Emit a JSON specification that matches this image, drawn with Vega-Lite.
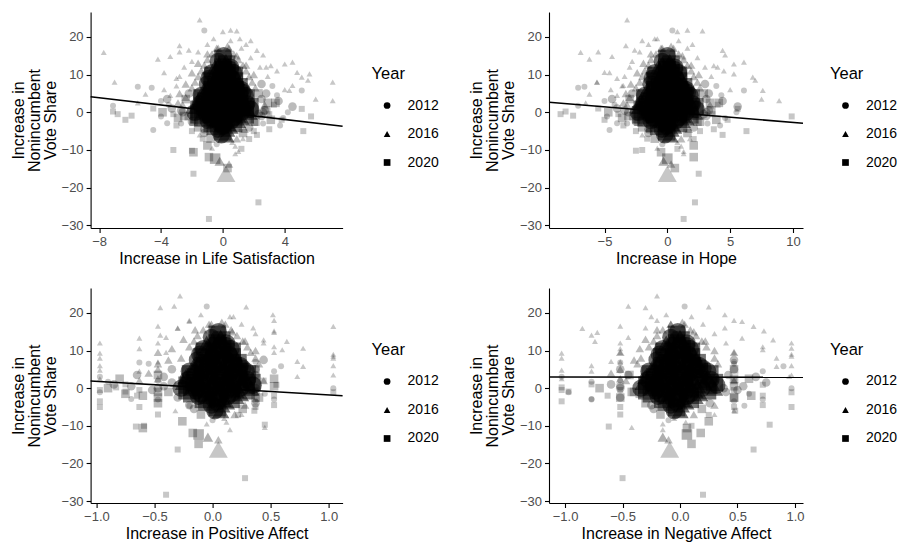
{
"$schema": "https://vega.github.io/schema/vega-lite/v6.json",
"background": "white",
"padding": {"left": 9.6, "top": 12, "right": 100, "bottom": 0},
"config": {
  "font": "Liberation Sans",
  "view": {"stroke": null},
  "axis": {"grid": false, "domainColor": "black", "domainWidth": 1.1, "tickColor": "black", "tickWidth": 1.1, "tickSize": 4.5, "labelColor": "#4d4d4d", "labelFont": "Liberation Sans", "labelFontSize": 13, "labelPadding": 3, "labelFlush": false, "labelOverlap": false, "titleFont": "Liberation Sans", "titleFontSize": 16, "titleFontWeight": "normal", "titleColor": "black"},
  "axisX": {"titlePadding": 2},
  "axisY": {"titlePadding": 3, "titleLineHeight": 16},
  "legend": {"titleFont": "Liberation Sans", "titleFontSize": 16.5, "titleFontWeight": "normal", "titleColor": "black", "labelFont": "Liberation Sans", "labelFontSize": 14, "labelColor": "black", "symbolSize": 45, "symbolFillColor": "black", "symbolOpacity": 1, "symbolStrokeWidth": 0, "rowPadding": 14.5, "titlePadding": 16, "labelOffset": 13.5, "symbolOffset": 8.5, "padding": 0}
},
"columns": 2,
"spacing": {"row": 21, "column": 28.4},
"resolve": {"scale": {"shape": "independent"}, "legend": {"shape": "independent"}},
"datasets": {
"fits": [
{"panel":"ls","x":-8.55,"y":4.1},{"panel":"ls","x":7.74,"y":-3.7},
{"panel":"hope","x":-9.42,"y":2.65},{"panel":"hope","x":10.8,"y":-2.9},
{"panel":"pa","x":-1.05,"y":1.9},{"panel":"pa","x":1.12,"y":-2.0},
{"panel":"na","x":-1.14,"y":2.95},{"panel":"na","x":1.07,"y":2.9}
],
"counties": [
{"ls":-1.5,"hope":-3.2,"pa":-0.28,"na":-0.2,"v":24.5,"yr":"2016","pop":1},
{"ls":-1.2,"hope":0.4,"pa":-0.05,"na":0.04,"v":21.7,"yr":"2012","pop":1},
{"ls":0.0,"hope":0.8,"pa":-0.45,"na":-0.3,"v":21.4,"yr":"2016","pop":1},
{"ls":0.5,"hope":1.6,"pa":-0.33,"na":-0.45,"v":21.8,"yr":"2016","pop":1},
{"ls":0.9,"hope":2.8,"pa":0.29,"na":0.25,"v":21.6,"yr":"2016","pop":1},
{"ls":1.1,"hope":-1.0,"pa":0.52,"na":0.39,"v":19.5,"yr":"2016","pop":1},
{"ls":1.8,"hope":-2.0,"pa":0.18,"na":-0.25,"v":19.0,"yr":"2016","pop":1},
{"ls":-7.7,"hope":-6.9,"pa":-0.3,"na":-0.85,"v":15.9,"yr":"2016","pop":1},
{"ls":-4.2,"hope":-6.2,"pa":-0.45,"na":-0.77,"v":14.1,"yr":"2016","pop":1},
{"ls":-3.4,"hope":-4.4,"pa":0.53,"na":-0.72,"v":14.8,"yr":"2016","pop":1},
{"ls":-2.8,"hope":-3.3,"pa":-0.2,"na":0.54,"v":17.7,"yr":"2016","pop":1},
{"ls":-2.8,"hope":-5.5,"pa":0.35,"na":0.39,"v":16.0,"yr":"2016","pop":1},
{"ls":2.2,"hope":4.4,"pa":1.04,"na":0.64,"v":16.4,"yr":"2016","pop":1},
{"ls":2.6,"hope":4.6,"pa":0.53,"na":0.73,"v":15.2,"yr":"2016","pop":1},
{"ls":3.1,"hope":3.7,"pa":0.64,"na":-0.74,"v":12.4,"yr":"2016","pop":1},
{"ls":4.0,"hope":5.3,"pa":0.44,"na":0.81,"v":12.8,"yr":"2016","pop":1},
{"ls":4.5,"hope":6.1,"pa":-0.63,"na":0.54,"v":13.3,"yr":"2016","pop":1},
{"ls":4.8,"hope":-5.0,"pa":0.78,"na":0.97,"v":10.6,"yr":"2016","pop":1},
{"ls":5.1,"hope":6.8,"pa":-0.97,"na":-1.03,"v":9.3,"yr":"2016","pop":1},
{"ls":5.6,"hope":5.3,"pa":0.6,"na":0.72,"v":10.2,"yr":"2016","pop":1},
{"ls":4.3,"hope":7.6,"pa":0.78,"na":0.84,"v":5.8,"yr":"2016","pop":1},
{"ls":5.1,"hope":6.1,"pa":0.59,"na":0.9,"v":5.8,"yr":"2012","pop":1},
{"ls":4.5,"hope":-3.5,"pa":0.73,"na":-0.6,"v":7.1,"yr":"2016","pop":1},
{"ls":7.1,"hope":-5.6,"pa":1.04,"na":-1.03,"v":8.0,"yr":"2016","pop":1},
{"ls":7.1,"hope":8.9,"pa":0.73,"na":0.95,"v":3.1,"yr":"2016","pop":1},
{"ls":-7.0,"hope":-5.6,"pa":-0.97,"na":0.84,"v":8.0,"yr":"2016","pop":1},
{"ls":-7.1,"hope":-7.1,"pa":-0.9,"na":-0.77,"v":1.7,"yr":"2012","pop":1},
{"ls":-7.1,"hope":-8.1,"pa":-0.83,"na":-1.03,"v":0.2,"yr":"2020","pop":1},
{"ls":-5.9,"hope":-7.5,"pa":-0.75,"na":-0.97,"v":-0.9,"yr":"2020","pop":1},
{"ls":-5.5,"hope":-6.6,"pa":-0.63,"na":-0.52,"v":6.8,"yr":"2012","pop":1},
{"ls":-4.6,"hope":-7.1,"pa":-0.55,"na":0.47,"v":6.5,"yr":"2012","pop":1},
{"ls":-4.5,"hope":-4.6,"pa":-0.2,"na":0.56,"v":-4.7,"yr":"2012","pop":1},
{"ls":5.7,"hope":9.9,"pa":1.04,"na":0.97,"v":-1.1,"yr":"2020","pop":1},
{"ls":5.2,"hope":6.3,"pa":-0.97,"na":0.97,"v":-5.0,"yr":"2020","pop":1},
{"ls":5.1,"hope":5.6,"pa":0.55,"na":0.72,"v":0.9,"yr":"2020","pop":1},
{"ls":3.7,"hope":4.2,"pa":0.37,"na":0.47,"v":-3.5,"yr":"2012","pop":1},
{"ls":3.9,"hope":4.6,"pa":0.45,"na":0.6,"v":-1.5,"yr":"2012","pop":1},
{"ls":2.2,"hope":4.4,"pa":0.36,"na":0.48,"v":-6.0,"yr":"2020","pop":1},
{"ls":1.7,"hope":2.1,"pa":0.22,"na":0.25,"v":-7.1,"yr":"2020","pop":1},
{"ls":1.0,"hope":1.3,"pa":0.45,"na":-0.42,"v":-10.4,"yr":"2016","pop":1},
{"ls":0.4,"hope":0.3,"pa":0.05,"na":-0.1,"v":-13.7,"yr":"2016","pop":2},
{"ls":0.2,"hope":0.0,"pa":0.05,"na":-0.09,"v":-16.3,"yr":"2016","pop":12},
{"ls":-0.2,"hope":-0.3,"pa":-0.04,"na":-0.15,"v":-13.0,"yr":"2016","pop":3},
{"ls":-0.9,"hope":2.1,"pa":-0.17,"na":0.18,"v":-11.9,"yr":"2020","pop":2},
{"ls":-1.0,"hope":2.1,"pa":-0.26,"na":0.25,"v":-8.8,"yr":"2020","pop":2},
{"ls":-1.9,"hope":-0.5,"pa":-0.6,"na":0.06,"v":-10.6,"yr":"2020","pop":2},
{"ls":-3.2,"hope":-2.0,"pa":-0.59,"na":0.1,"v":-10.0,"yr":"2020","pop":1},
{"ls":-1.9,"hope":2.5,"pa":-0.3,"na":0.64,"v":-16.3,"yr":"2020","pop":1},
{"ls":-0.9,"hope":1.3,"pa":-0.4,"na":0.2,"v":-28.3,"yr":"2020","pop":1},
{"ls":2.3,"hope":2.2,"pa":0.28,"na":-0.5,"v":-23.9,"yr":"2020","pop":1},
{"ls":-4.0,"hope":-4.8,"pa":-0.97,"na":-0.97,"v":-1.1,"yr":"2012","pop":1},
{"ls":-3.6,"hope":-4.0,"pa":-0.7,"na":-0.77,"v":-2.9,"yr":"2012","pop":1},
{"ls":-0.5,"hope":0.0,"pa":-0.12,"na":0.06,"v":-12.3,"yr":"2020","pop":3},
{"ls":0.3,"hope":0.6,"pa":-0.12,"na":0.1,"v":-14.8,"yr":"2020","pop":2},
{"ls":-6.8,"hope":-8.5,"pa":-0.97,"na":-1.03,"v":-0.5,"yr":"2020","pop":1},
{"ls":-6.3,"hope":-5.0,"pa":-0.65,"na":-0.63,"v":-2.0,"yr":"2020","pop":1},
{"ls":0.8,"hope":1.3,"pa":0.15,"na":-0.15,"v":-11.0,"yr":"2016","pop":1},
{"ls":1.2,"hope":0.8,"pa":0.45,"na":0.78,"v":-9.7,"yr":"2020","pop":1},
{"ls":-2.0,"hope":-2.5,"pa":-0.66,"na":-0.62,"v":-10.2,"yr":"2020","pop":1},
{"ls":6.0,"hope":7.5,"pa":1.04,"na":0.97,"v":3.5,"yr":"2016","pop":1},
{"ls":-5.0,"hope":-6.2,"pa":-0.97,"na":-1.03,"v":4.8,"yr":"2016","pop":1},
{"ls":-3.0,"hope":-4.0,"pa":1.04,"na":0.97,"v":9.0,"yr":"2016","pop":1},
{"ls":2.8,"hope":4.0,"pa":-0.97,"na":0.97,"v":12.0,"yr":"2016","pop":1},
{"ls":-2.5,"hope":-3.0,"pa":-0.47,"na":-0.52,"v":12.0,"yr":"2016","pop":1},
{"ls":-2.0,"hope":-2.8,"pa":-0.4,"na":-0.45,"v":13.5,"yr":"2016","pop":1},
{"ls":-1.6,"hope":-2.2,"pa":-0.3,"na":-0.3,"v":16.0,"yr":"2016","pop":1},
{"ls":-1.0,"hope":-1.5,"pa":-0.2,"na":-0.2,"v":18.0,"yr":"2016","pop":1},
{"ls":-0.6,"hope":-0.8,"pa":-0.1,"na":-0.12,"v":19.5,"yr":"2016","pop":1},
{"ls":0.5,"hope":0.9,"pa":0.15,"na":0.1,"v":19.0,"yr":"2016","pop":1},
{"ls":1.2,"hope":1.6,"pa":0.25,"na":0.2,"v":17.0,"yr":"2016","pop":1},
{"ls":1.8,"hope":2.4,"pa":0.37,"na":0.3,"v":14.5,"yr":"2016","pop":1},
{"ls":2.4,"hope":3.0,"pa":0.44,"na":0.4,"v":12.0,"yr":"2016","pop":1},
{"ls":2.9,"hope":3.5,"pa":0.53,"na":0.47,"v":9.5,"yr":"2016","pop":1},
{"ls":3.2,"hope":3.9,"pa":0.37,"na":0.47,"v":7.0,"yr":"2012","pop":1},
{"ls":3.5,"hope":4.3,"pa":0.53,"na":0.72,"v":4.5,"yr":"2012","pop":1},
{"ls":3.3,"hope":4.0,"pa":0.44,"na":0.47,"v":2.0,"yr":"2020","pop":1},
{"ls":3.0,"hope":3.6,"pa":0.37,"na":0.47,"v":-0.5,"yr":"2020","pop":1},
{"ls":2.6,"hope":3.2,"pa":0.53,"na":0.72,"v":-3.0,"yr":"2012","pop":1},
{"ls":2.0,"hope":2.6,"pa":0.37,"na":0.47,"v":-5.0,"yr":"2020","pop":1},
{"ls":1.3,"hope":1.8,"pa":0.25,"na":0.3,"v":-7.0,"yr":"2016","pop":1},
{"ls":0.8,"hope":1.1,"pa":0.12,"na":0.05,"v":-9.0,"yr":"2016","pop":1},
{"ls":-0.7,"hope":-0.8,"pa":-0.05,"na":-0.15,"v":-9.5,"yr":"2016","pop":1},
{"ls":-1.3,"hope":-1.6,"pa":-0.47,"na":-0.52,"v":-7.0,"yr":"2020","pop":1},
{"ls":-2.0,"hope":-2.5,"pa":-0.63,"na":-0.52,"v":-5.0,"yr":"2020","pop":1},
{"ls":-2.7,"hope":-3.2,"pa":-0.47,"na":-0.77,"v":-3.0,"yr":"2012","pop":1},
{"ls":-3.2,"hope":-3.9,"pa":-0.63,"na":-0.52,"v":-0.5,"yr":"2020","pop":1},
{"ls":-3.5,"hope":-4.2,"pa":-0.47,"na":-0.52,"v":2.0,"yr":"2012","pop":1},
{"ls":-3.4,"hope":-4.0,"pa":-0.63,"na":-0.77,"v":4.5,"yr":"2016","pop":1},
{"ls":-3.0,"hope":-3.6,"pa":-0.47,"na":-0.52,"v":7.0,"yr":"2016","pop":1},
{"ls":-2.8,"hope":-3.4,"pa":-0.4,"na":-0.52,"v":9.5,"yr":"2016","pop":1},
{"ls":-2.0,"hope":-2.4,"pa":-0.35,"na":-0.35,"v":10.5,"yr":"2016","pop":2},
{"ls":-1.6,"hope":-1.9,"pa":-0.25,"na":-0.3,"v":13.0,"yr":"2016","pop":2},
{"ls":-1.0,"hope":-1.3,"pa":-0.15,"na":-0.2,"v":15.5,"yr":"2016","pop":2},
{"ls":-0.4,"hope":-0.5,"pa":-0.03,"na":-0.08,"v":17.0,"yr":"2016","pop":2},
{"ls":0.3,"hope":0.3,"pa":0.08,"na":0.02,"v":17.5,"yr":"2016","pop":2},
{"ls":0.9,"hope":1.2,"pa":0.17,"na":0.12,"v":15.0,"yr":"2016","pop":2},
{"ls":1.5,"hope":1.9,"pa":0.28,"na":0.22,"v":12.5,"yr":"2016","pop":2},
{"ls":2.0,"hope":2.5,"pa":0.37,"na":0.3,"v":10.0,"yr":"2016","pop":2},
{"ls":2.5,"hope":3.0,"pa":0.44,"na":0.47,"v":7.5,"yr":"2012","pop":2},
{"ls":2.8,"hope":3.3,"pa":0.37,"na":0.47,"v":5.0,"yr":"2012","pop":2},
{"ls":2.9,"hope":3.4,"pa":0.53,"na":0.47,"v":2.5,"yr":"2020","pop":2},
{"ls":2.6,"hope":3.1,"pa":0.37,"na":0.38,"v":0.0,"yr":"2012","pop":2},
{"ls":2.0,"hope":2.4,"pa":0.37,"na":0.47,"v":-2.5,"yr":"2020","pop":2},
{"ls":1.4,"hope":1.7,"pa":0.28,"na":0.3,"v":-4.5,"yr":"2016","pop":2},
{"ls":-1.2,"hope":-1.5,"pa":-0.2,"na":-0.25,"v":-4.5,"yr":"2012","pop":2},
{"ls":-1.9,"hope":-2.3,"pa":-0.47,"na":-0.52,"v":-2.5,"yr":"2020","pop":2},
{"ls":-2.6,"hope":-3.1,"pa":-0.47,"na":-0.52,"v":0.0,"yr":"2012","pop":2},
{"ls":-2.9,"hope":-3.5,"pa":-0.47,"na":-0.52,"v":2.5,"yr":"2016","pop":2},
{"ls":-2.8,"hope":-3.3,"pa":-0.47,"na":-0.52,"v":5.0,"yr":"2016","pop":2},
{"ls":-2.4,"hope":-2.9,"pa":-0.38,"na":-0.4,"v":7.5,"yr":"2016","pop":2},
{"ls":-4.0,"hope":-5.0,"pa":-0.97,"na":-1.03,"v":3.0,"yr":"2012","pop":1},
{"ls":-3.8,"hope":-4.5,"pa":-0.97,"na":-0.77,"v":6.0,"yr":"2016","pop":1},
{"ls":4.0,"hope":5.0,"pa":1.04,"na":0.97,"v":6.0,"yr":"2016","pop":1},
{"ls":4.2,"hope":5.5,"pa":1.04,"na":0.97,"v":0.0,"yr":"2012","pop":1},
{"ls":3.8,"hope":4.8,"pa":0.53,"na":0.72,"v":-2.0,"yr":"2020","pop":1},
{"ls":-4.5,"hope":-5.5,"pa":-0.75,"na":-0.77,"v":1.0,"yr":"2020","pop":1},
{"ls":-5.5,"hope":-6.5,"pa":-0.97,"na":-1.03,"v":2.5,"yr":"2016","pop":1},
{"ls":5.5,"hope":7.0,"pa":1.04,"na":0.97,"v":8.5,"yr":"2016","pop":1},
{"ls":-3.8,"hope":-4.6,"pa":-0.63,"na":-0.52,"v":10.5,"yr":"2016","pop":1},
{"ls":3.5,"hope":4.5,"pa":0.53,"na":0.72,"v":11.0,"yr":"2016","pop":1},
{"ls":1.5,"hope":2.0,"pa":0.53,"na":0.47,"v":18.0,"yr":"2016","pop":1},
{"ls":-2.2,"hope":-2.6,"pa":-0.47,"na":-0.52,"v":16.5,"yr":"2016","pop":1},
{"ls":-3.0,"hope":-3.5,"pa":-0.97,"na":-1.03,"v":-3.5,"yr":"2020","pop":1},
{"ls":3.0,"hope":3.7,"pa":0.53,"na":0.72,"v":-4.5,"yr":"2020","pop":1},
{"ls":-1.5,"hope":-2.0,"pa":-0.32,"na":0.47,"v":-6.0,"yr":"2016","pop":1},
{"ls":0.6,"hope":0.8,"pa":0.1,"na":-0.05,"v":-8.0,"yr":"2016","pop":1},
{"ls":-0.4,"hope":-0.4,"pa":0.0,"na":-0.1,"v":-8.5,"yr":"2012","pop":1},
{"ls":-3.3,"hope":-4.0,"pa":-0.85,"na":-0.6,"v":1.0,"yr":"2012","pop":2},
{"ls":3.4,"hope":4.1,"pa":-0.8,"na":0.6,"v":2.5,"yr":"2020","pop":2},
{"ls":-2.9,"hope":-3.6,"pa":-0.75,"na":-0.35,"v":-1.5,"yr":"2020","pop":2},
{"ls":2.7,"hope":3.3,"pa":-0.7,"na":0.55,"v":0.5,"yr":"2012","pop":2},
{"ls":-3.6,"hope":-4.4,"pa":-0.65,"na":-0.45,"v":3.5,"yr":"2012","pop":2},
{"ls":3.1,"hope":3.9,"pa":-0.6,"na":0.62,"v":-2.0,"yr":"2020","pop":2},
{"ls":-2.4,"hope":-3.0,"pa":-0.55,"na":-0.6,"v":4.0,"yr":"2016","pop":2},
{"ls":2.3,"hope":2.9,"pa":-0.52,"na":0.5,"v":-0.5,"yr":"2012","pop":2},
{"ls":-3.9,"hope":-4.7,"pa":-0.9,"na":-0.7,"v":0.0,"yr":"2020","pop":2},
{"ls":3.6,"hope":4.4,"pa":-0.42,"na":0.66,"v":3.0,"yr":"2012","pop":2},
{"ls":-2.2,"hope":-2.7,"pa":-0.38,"na":-0.42,"v":-1.0,"yr":"2020","pop":2},
{"ls":4.5,"hope":5.6,"pa":-0.35,"na":0.75,"v":1.5,"yr":"2012","pop":2},
{"ls":-0.8,"hope":-1.0,"pa":-0.1,"na":-0.17,"v":-7,"yr":"2020","pop":2},
{"ls":-1.2,"hope":-1.5,"pa":-0.16,"na":-0.23,"v":-5.5,"yr":"2012","pop":2},
{"ls":-1.6,"hope":-2.0,"pa":-0.47,"na":-0.3,"v":-4,"yr":"2020","pop":2},
{"ls":-2.0,"hope":-2.5,"pa":-0.3,"na":-0.52,"v":-2.5,"yr":"2012","pop":2},
{"ls":-2.5,"hope":-3.1,"pa":-0.47,"na":-0.4,"v":-1,"yr":"2020","pop":2},
{"ls":-2.7,"hope":-3.4,"pa":-0.42,"na":-0.52,"v":0.5,"yr":"2012","pop":2},
{"ls":-2.6,"hope":-3.2,"pa":-0.63,"na":-0.47,"v":2,"yr":"2016","pop":2},
{"ls":-2.4,"hope":-3.0,"pa":-0.47,"na":-0.44,"v":3.5,"yr":"2020","pop":2},
{"ls":-2.2,"hope":-2.8,"pa":-0.35,"na":-0.52,"v":5,"yr":"2012","pop":2},
{"ls":-2.0,"hope":-2.5,"pa":-0.47,"na":-0.37,"v":6.5,"yr":"2016","pop":2},
{"ls":-1.8,"hope":-2.2,"pa":-0.27,"na":-0.34,"v":8,"yr":"2016","pop":2},
{"ls":-1.6,"hope":-2.0,"pa":-0.47,"na":-0.52,"v":9.5,"yr":"2016","pop":2},
{"ls":-1.4,"hope":-1.8,"pa":-0.2,"na":-0.27,"v":11,"yr":"2016","pop":2},
{"ls":-1.2,"hope":-1.5,"pa":-0.16,"na":-0.23,"v":12.5,"yr":"2016","pop":2},
{"ls":-1.0,"hope":-1.3,"pa":-0.13,"na":-0.2,"v":14,"yr":"2016","pop":2},
{"ls":-0.7,"hope":-0.9,"pa":-0.08,"na":-0.15,"v":15.5,"yr":"2016","pop":2},
{"ls":-0.3,"hope":-0.4,"pa":-0.01,"na":-0.08,"v":17,"yr":"2016","pop":2},
{"ls":0.9,"hope":1.1,"pa":0.19,"na":0.12,"v":-7,"yr":"2016","pop":2},
{"ls":1.3,"hope":1.6,"pa":0.26,"na":0.19,"v":-5.5,"yr":"2020","pop":2},
{"ls":1.7,"hope":2.1,"pa":0.37,"na":0.26,"v":-4,"yr":"2012","pop":2},
{"ls":2.1,"hope":2.6,"pa":0.4,"na":0.47,"v":-2.5,"yr":"2020","pop":2},
{"ls":2.5,"hope":3.1,"pa":0.37,"na":0.4,"v":-1,"yr":"2012","pop":2},
{"ls":2.8,"hope":3.5,"pa":0.53,"na":0.47,"v":0.5,"yr":"2020","pop":2},
{"ls":2.7,"hope":3.4,"pa":0.44,"na":0.47,"v":2,"yr":"2016","pop":2},
{"ls":2.5,"hope":3.1,"pa":0.37,"na":0.42,"v":3.5,"yr":"2012","pop":2},
{"ls":2.3,"hope":2.9,"pa":0.37,"na":0.47,"v":5,"yr":"2020","pop":2},
{"ls":2.1,"hope":2.6,"pa":0.4,"na":0.33,"v":6.5,"yr":"2016","pop":2},
{"ls":1.9,"hope":2.4,"pa":0.37,"na":0.3,"v":8,"yr":"2016","pop":2},
{"ls":1.7,"hope":2.1,"pa":0.33,"na":0.47,"v":9.5,"yr":"2016","pop":2},
{"ls":1.5,"hope":1.9,"pa":0.3,"na":0.23,"v":11,"yr":"2016","pop":2},
{"ls":1.3,"hope":1.6,"pa":0.26,"na":0.19,"v":12.5,"yr":"2016","pop":2},
{"ls":1.0,"hope":1.3,"pa":0.21,"na":0.14,"v":14,"yr":"2016","pop":2},
{"ls":0.7,"hope":0.9,"pa":0.16,"na":0.09,"v":15.5,"yr":"2016","pop":2},
{"ls":0.4,"hope":0.5,"pa":0.11,"na":0.04,"v":17,"yr":"2016","pop":2},
{"ls":-0.1,"hope":-0.2,"pa":0.02,"na":-0.05,"v":-6,"yr":"2012","pop":8},
{"ls":0.2,"hope":0.2,"pa":0.07,"na":0,"v":-6,"yr":"2016","pop":8},
{"ls":0,"hope":-0.05,"pa":0.04,"na":-0.03,"v":-5.2,"yr":"2020","pop":8},
{"ls":-0.3,"hope":-0.4,"pa":-0.01,"na":-0.08,"v":-4.5,"yr":"2012","pop":8},
{"ls":0.25,"hope":0.3,"pa":0.08,"na":0.01,"v":-4.5,"yr":"2016","pop":8},
{"ls":-0.5,"hope":-0.7,"pa":-0.05,"na":-0.12,"v":-3.7,"yr":"2020","pop":8},
{"ls":0,"hope":-0.05,"pa":0.04,"na":-0.03,"v":-3.7,"yr":"2012","pop":8},
{"ls":0.45,"hope":0.5,"pa":0.12,"na":0.05,"v":-3.7,"yr":"2016","pop":8},
{"ls":-0.7,"hope":-1.0,"pa":-0.08,"na":-0.15,"v":-3,"yr":"2020","pop":8},
{"ls":-0.2,"hope":-0.3,"pa":0.01,"na":-0.06,"v":-3,"yr":"2012","pop":8},
{"ls":0.3,"hope":0.3,"pa":0.09,"na":0.02,"v":-3,"yr":"2016","pop":8},
{"ls":0.7,"hope":0.9,"pa":0.16,"na":0.09,"v":-3,"yr":"2020","pop":8},
{"ls":-0.95,"hope":-1.3,"pa":-0.12,"na":-0.19,"v":-2.2,"yr":"2012","pop":8},
{"ls":-0.45,"hope":-0.6,"pa":-0.04,"na":-0.11,"v":-2.2,"yr":"2016","pop":8},
{"ls":0.05,"hope":0,"pa":0.05,"na":-0.02,"v":-2.2,"yr":"2020","pop":8},
{"ls":0.55,"hope":0.7,"pa":0.13,"na":0.06,"v":-2.2,"yr":"2012","pop":8},
{"ls":0.95,"hope":1.2,"pa":0.2,"na":0.13,"v":-2.2,"yr":"2016","pop":8},
{"ls":-1.3,"hope":-1.7,"pa":-0.18,"na":-0.25,"v":-1.5,"yr":"2020","pop":8},
{"ls":-0.8,"hope":-1.1,"pa":-0.1,"na":-0.17,"v":-1.5,"yr":"2012","pop":8},
{"ls":-0.3,"hope":-0.4,"pa":-0.01,"na":-0.08,"v":-1.5,"yr":"2016","pop":8},
{"ls":0.2,"hope":0.2,"pa":0.07,"na":0,"v":-1.5,"yr":"2020","pop":8},
{"ls":0.7,"hope":0.9,"pa":0.16,"na":0.09,"v":-1.5,"yr":"2012","pop":8},
{"ls":1.2,"hope":1.5,"pa":0.24,"na":0.17,"v":-1.5,"yr":"2016","pop":8},
{"ls":-1.55,"hope":-2.1,"pa":-0.22,"na":-0.29,"v":-0.7,"yr":"2020","pop":8},
{"ls":-1.05,"hope":-1.4,"pa":-0.14,"na":-0.21,"v":-0.7,"yr":"2012","pop":8},
{"ls":-0.55,"hope":-0.8,"pa":-0.05,"na":-0.12,"v":-0.7,"yr":"2016","pop":8},
{"ls":-0.05,"hope":-0.1,"pa":0.03,"na":-0.04,"v":-0.7,"yr":"2020","pop":8},
{"ls":0.45,"hope":0.5,"pa":0.12,"na":0.05,"v":-0.7,"yr":"2012","pop":8},
{"ls":0.95,"hope":1.2,"pa":0.2,"na":0.13,"v":-0.7,"yr":"2016","pop":8},
{"ls":1.45,"hope":1.8,"pa":0.29,"na":0.24,"v":-0.7,"yr":"2020","pop":8},
{"ls":-1.8,"hope":-2.3,"pa":-0.27,"na":-0.34,"v":0,"yr":"2012","pop":8},
{"ls":-1.3,"hope":-1.7,"pa":-0.18,"na":-0.25,"v":0,"yr":"2016","pop":8},
{"ls":-0.8,"hope":-1.1,"pa":-0.1,"na":-0.17,"v":0,"yr":"2020","pop":8},
{"ls":-0.3,"hope":-0.4,"pa":-0.01,"na":-0.08,"v":0,"yr":"2012","pop":8},
{"ls":0.2,"hope":0.2,"pa":0.07,"na":0,"v":0,"yr":"2016","pop":8},
{"ls":0.7,"hope":0.9,"pa":0.16,"na":0.09,"v":0,"yr":"2020","pop":8},
{"ls":1.2,"hope":1.5,"pa":0.24,"na":0.19,"v":0,"yr":"2012","pop":8},
{"ls":1.7,"hope":2.2,"pa":0.33,"na":0.3,"v":0,"yr":"2016","pop":8},
{"ls":-1.55,"hope":-2.0,"pa":-0.22,"na":-0.29,"v":0.8,"yr":"2020","pop":8},
{"ls":-1.05,"hope":-1.3,"pa":-0.14,"na":-0.21,"v":0.8,"yr":"2012","pop":8},
{"ls":-0.55,"hope":-0.7,"pa":-0.05,"na":-0.12,"v":0.8,"yr":"2016","pop":8},
{"ls":-0.05,"hope":-0.1,"pa":0.03,"na":-0.04,"v":0.8,"yr":"2020","pop":8},
{"ls":0.45,"hope":0.5,"pa":0.12,"na":0.05,"v":0.8,"yr":"2012","pop":8},
{"ls":0.95,"hope":1.2,"pa":0.2,"na":0.15,"v":0.8,"yr":"2016","pop":8},
{"ls":1.45,"hope":1.8,"pa":0.29,"na":0.25,"v":0.8,"yr":"2020","pop":8},
{"ls":1.8,"hope":2.3,"pa":0.35,"na":0.32,"v":0.8,"yr":"2012","pop":8},
{"ls":-1.7,"hope":-2.2,"pa":-0.25,"na":-0.32,"v":1.5,"yr":"2016","pop":8},
{"ls":-1.2,"hope":-1.6,"pa":-0.16,"na":-0.23,"v":1.5,"yr":"2020","pop":8},
{"ls":-0.7,"hope":-0.9,"pa":-0.08,"na":-0.15,"v":1.5,"yr":"2012","pop":8},
{"ls":-0.2,"hope":-0.3,"pa":0.01,"na":-0.06,"v":1.5,"yr":"2016","pop":8},
{"ls":0.3,"hope":0.3,"pa":0.09,"na":0.02,"v":1.5,"yr":"2020","pop":8},
{"ls":0.8,"hope":1.0,"pa":0.18,"na":0.11,"v":1.5,"yr":"2012","pop":8},
{"ls":1.3,"hope":1.6,"pa":0.26,"na":0.21,"v":1.5,"yr":"2016","pop":8},
{"ls":1.75,"hope":2.2,"pa":0.34,"na":0.3,"v":1.5,"yr":"2020","pop":8},
{"ls":-1.45,"hope":-1.9,"pa":-0.21,"na":-0.28,"v":2.3,"yr":"2012","pop":8},
{"ls":-0.95,"hope":-1.2,"pa":-0.12,"na":-0.19,"v":2.3,"yr":"2016","pop":8},
{"ls":-0.45,"hope":-0.6,"pa":-0.04,"na":-0.11,"v":2.3,"yr":"2020","pop":8},
{"ls":0.05,"hope":0,"pa":0.05,"na":-0.02,"v":2.3,"yr":"2012","pop":8},
{"ls":0.55,"hope":0.7,"pa":0.13,"na":0.06,"v":2.3,"yr":"2016","pop":8},
{"ls":1.05,"hope":1.3,"pa":0.22,"na":0.16,"v":2.3,"yr":"2020","pop":8},
{"ls":1.55,"hope":2.0,"pa":0.3,"na":0.27,"v":2.3,"yr":"2012","pop":8},
{"ls":-1.6,"hope":-2.1,"pa":-0.23,"na":-0.3,"v":3,"yr":"2016","pop":8},
{"ls":-1.1,"hope":-1.4,"pa":-0.15,"na":-0.22,"v":3,"yr":"2020","pop":8},
{"ls":-0.6,"hope":-0.8,"pa":-0.06,"na":-0.13,"v":3,"yr":"2012","pop":8},
{"ls":-0.1,"hope":-0.2,"pa":0.02,"na":-0.05,"v":3,"yr":"2016","pop":8},
{"ls":0.4,"hope":0.5,"pa":0.11,"na":0.04,"v":3,"yr":"2020","pop":8},
{"ls":0.9,"hope":1.1,"pa":0.19,"na":0.13,"v":3,"yr":"2012","pop":8},
{"ls":1.4,"hope":1.8,"pa":0.28,"na":0.24,"v":3,"yr":"2016","pop":8},
{"ls":-1.35,"hope":-1.8,"pa":-0.19,"na":-0.26,"v":3.8,"yr":"2020","pop":8},
{"ls":-0.85,"hope":-1.1,"pa":-0.1,"na":-0.17,"v":3.8,"yr":"2012","pop":8},
{"ls":-0.35,"hope":-0.5,"pa":-0.02,"na":-0.09,"v":3.8,"yr":"2016","pop":8},
{"ls":0.15,"hope":0.1,"pa":0.07,"na":0,"v":3.8,"yr":"2020","pop":8},
{"ls":0.65,"hope":0.8,"pa":0.15,"na":0.08,"v":3.8,"yr":"2012","pop":8},
{"ls":1.15,"hope":1.4,"pa":0.24,"na":0.18,"v":3.8,"yr":"2016","pop":8},
{"ls":1.5,"hope":1.9,"pa":0.3,"na":0.26,"v":3.8,"yr":"2020","pop":8},
{"ls":-1.4,"hope":-1.8,"pa":-0.2,"na":-0.27,"v":4.5,"yr":"2012","pop":8},
{"ls":-0.9,"hope":-1.2,"pa":-0.11,"na":-0.18,"v":4.5,"yr":"2016","pop":8},
{"ls":-0.4,"hope":-0.6,"pa":-0.03,"na":-0.1,"v":4.5,"yr":"2020","pop":8},
{"ls":0.1,"hope":0.1,"pa":0.06,"na":-0.01,"v":4.5,"yr":"2012","pop":8},
{"ls":0.6,"hope":0.7,"pa":0.14,"na":0.07,"v":4.5,"yr":"2016","pop":8},
{"ls":1.1,"hope":1.4,"pa":0.23,"na":0.17,"v":4.5,"yr":"2020","pop":8},
{"ls":1.45,"hope":1.8,"pa":0.29,"na":0.24,"v":4.5,"yr":"2012","pop":8},
{"ls":-1.15,"hope":-1.5,"pa":-0.16,"na":-0.23,"v":5.3,"yr":"2016","pop":8},
{"ls":-0.65,"hope":-0.9,"pa":-0.07,"na":-0.14,"v":5.3,"yr":"2020","pop":8},
{"ls":-0.15,"hope":-0.2,"pa":0.01,"na":-0.06,"v":5.3,"yr":"2012","pop":8},
{"ls":0.35,"hope":0.4,"pa":0.1,"na":0.03,"v":5.3,"yr":"2016","pop":8},
{"ls":0.85,"hope":1.1,"pa":0.18,"na":0.12,"v":5.3,"yr":"2020","pop":8},
{"ls":1.3,"hope":1.6,"pa":0.26,"na":0.2,"v":5.3,"yr":"2012","pop":8},
{"ls":-1.2,"hope":-1.6,"pa":-0.16,"na":-0.23,"v":6,"yr":"2016","pop":8},
{"ls":-0.7,"hope":-1.0,"pa":-0.08,"na":-0.15,"v":6,"yr":"2020","pop":8},
{"ls":-0.2,"hope":-0.3,"pa":0.01,"na":-0.06,"v":6,"yr":"2012","pop":8},
{"ls":0.3,"hope":0.3,"pa":0.09,"na":0.02,"v":6,"yr":"2016","pop":8},
{"ls":0.8,"hope":1.0,"pa":0.18,"na":0.11,"v":6,"yr":"2020","pop":8},
{"ls":1.2,"hope":1.5,"pa":0.24,"na":0.17,"v":6,"yr":"2012","pop":8},
{"ls":-0.95,"hope":-1.3,"pa":-0.12,"na":-0.19,"v":6.8,"yr":"2016","pop":8},
{"ls":-0.45,"hope":-0.6,"pa":-0.04,"na":-0.11,"v":6.8,"yr":"2020","pop":8},
{"ls":0.05,"hope":0,"pa":0.05,"na":-0.02,"v":6.8,"yr":"2012","pop":8},
{"ls":0.55,"hope":0.7,"pa":0.13,"na":0.06,"v":6.8,"yr":"2016","pop":8},
{"ls":1.05,"hope":1.3,"pa":0.22,"na":0.15,"v":6.8,"yr":"2020","pop":8},
{"ls":-1.0,"hope":-1.3,"pa":-0.13,"na":-0.2,"v":7.5,"yr":"2012","pop":8},
{"ls":-0.5,"hope":-0.7,"pa":-0.05,"na":-0.12,"v":7.5,"yr":"2016","pop":8},
{"ls":0,"hope":-0.05,"pa":0.04,"na":-0.03,"v":7.5,"yr":"2020","pop":8},
{"ls":0.5,"hope":0.6,"pa":0.12,"na":0.06,"v":7.5,"yr":"2012","pop":8},
{"ls":1.0,"hope":1.3,"pa":0.21,"na":0.14,"v":7.5,"yr":"2016","pop":8},
{"ls":-0.75,"hope":-1.0,"pa":-0.09,"na":-0.16,"v":8.3,"yr":"2020","pop":8},
{"ls":-0.25,"hope":-0.4,"pa":0,"na":-0.07,"v":8.3,"yr":"2012","pop":8},
{"ls":0.25,"hope":0.3,"pa":0.08,"na":0.01,"v":8.3,"yr":"2016","pop":8},
{"ls":0.75,"hope":0.9,"pa":0.17,"na":0.1,"v":8.3,"yr":"2020","pop":8},
{"ls":-0.9,"hope":-1.2,"pa":-0.11,"na":-0.18,"v":9,"yr":"2012","pop":8},
{"ls":-0.4,"hope":-0.6,"pa":-0.03,"na":-0.1,"v":9,"yr":"2016","pop":8},
{"ls":0.1,"hope":0.1,"pa":0.06,"na":-0.01,"v":9,"yr":"2020","pop":8},
{"ls":0.6,"hope":0.7,"pa":0.14,"na":0.07,"v":9,"yr":"2012","pop":8},
{"ls":0.9,"hope":1.1,"pa":0.19,"na":0.12,"v":9,"yr":"2016","pop":8},
{"ls":-0.65,"hope":-0.9,"pa":-0.07,"na":-0.14,"v":9.8,"yr":"2020","pop":8},
{"ls":-0.15,"hope":-0.2,"pa":0.01,"na":-0.06,"v":9.8,"yr":"2012","pop":8},
{"ls":0.35,"hope":0.4,"pa":0.1,"na":0.03,"v":9.8,"yr":"2016","pop":8},
{"ls":0.75,"hope":0.9,"pa":0.17,"na":0.1,"v":9.8,"yr":"2020","pop":8},
{"ls":-0.7,"hope":-1.0,"pa":-0.08,"na":-0.15,"v":10.5,"yr":"2012","pop":8},
{"ls":-0.2,"hope":-0.3,"pa":0.01,"na":-0.06,"v":10.5,"yr":"2016","pop":8},
{"ls":0.3,"hope":0.3,"pa":0.09,"na":0.02,"v":10.5,"yr":"2020","pop":8},
{"ls":0.7,"hope":0.9,"pa":0.16,"na":0.09,"v":10.5,"yr":"2012","pop":8},
{"ls":-0.45,"hope":-0.6,"pa":-0.04,"na":-0.11,"v":11.3,"yr":"2016","pop":8},
{"ls":0.05,"hope":0,"pa":0.05,"na":-0.02,"v":11.3,"yr":"2020","pop":8},
{"ls":0.5,"hope":0.6,"pa":0.12,"na":0.06,"v":11.3,"yr":"2012","pop":8},
{"ls":-0.5,"hope":-0.7,"pa":-0.05,"na":-0.12,"v":12,"yr":"2016","pop":8},
{"ls":0,"hope":-0.05,"pa":0.04,"na":-0.03,"v":12,"yr":"2020","pop":8},
{"ls":0.5,"hope":0.6,"pa":0.12,"na":0.06,"v":12,"yr":"2012","pop":8},
{"ls":-0.25,"hope":-0.4,"pa":0,"na":-0.07,"v":12.8,"yr":"2016","pop":8},
{"ls":0.25,"hope":0.3,"pa":0.08,"na":0.01,"v":12.8,"yr":"2020","pop":8},
{"ls":-0.3,"hope":-0.4,"pa":-0.01,"na":-0.08,"v":13.5,"yr":"2012","pop":8},
{"ls":0.2,"hope":0.2,"pa":0.07,"na":0,"v":13.5,"yr":"2016","pop":8},
{"ls":0,"hope":-0.05,"pa":0.04,"na":-0.03,"v":14.3,"yr":"2020","pop":8},
{"ls":0.05,"hope":0,"pa":0.05,"na":-0.02,"v":15,"yr":"2012","pop":8}
]
},
"concat": [
{
 "width": 252, "height": 216,
 "layer": [
  {"data": {"name": "counties"},
   "mark": {"type": "point", "filled": true, "color": "black", "strokeWidth": 0},
   "encoding": {
    "x": {"field": "ls", "type": "quantitative", "scale": {"domain": [-8.55, 7.74], "nice": false, "zero": false}, "axis": {"values": [-8, -4, 0, 4], "title": "Increase in Life Satisfaction"}},
    "y": {"field": "v", "type": "quantitative", "scale": {"domain": [-30.7, 26.6], "nice": false, "zero": false}, "axis": {"values": [-30, -20, -10, 0, 10, 20], "title": ["Increase in", "Nonincumbent", "Vote Share"]}},
    "shape": {"field": "yr", "type": "nominal", "scale": {"domain": ["2012", "2016", "2020"], "range": ["circle", "triangle-up", "square"]}, "legend": {"title": "Year", "orient": "none", "legendX": 281, "legendY": 54, "symbolOpacity": 1}},
    "size": {"field": "pop", "type": "quantitative", "scale": {"domain": [1, 8, 12], "range": [36, 300, 360]}, "legend": null},
    "opacity": {"field": "pop", "type": "quantitative", "scale": {"domain": [1, 8, 12], "range": [0.22, 0.55, 0.22]}, "legend": null}
   }},
  {"data": {"name": "fits"}, "transform": [{"filter": {"field": "panel", "equal": "ls"}}],
   "mark": {"type": "line", "color": "black", "strokeWidth": 1.6},
   "encoding": {"x": {"field": "x", "type": "quantitative", "title": "Increase in Life Satisfaction"}, "y": {"field": "y", "type": "quantitative", "title": ["Increase in", "Nonincumbent", "Vote Share"]}}}
 ]
},
{
 "width": 254, "height": 216,
 "layer": [
  {"data": {"name": "counties"},
   "mark": {"type": "point", "filled": true, "color": "black", "strokeWidth": 0},
   "encoding": {
    "x": {"field": "hope", "type": "quantitative", "scale": {"domain": [-9.42, 10.8], "nice": false, "zero": false}, "axis": {"values": [-5, 0, 5, 10], "title": "Increase in Hope"}},
    "y": {"field": "v", "type": "quantitative", "scale": {"domain": [-30.7, 26.6], "nice": false, "zero": false}, "axis": {"values": [-30, -20, -10, 0, 10, 20], "title": ["Increase in", "Nonincumbent", "Vote Share"]}},
    "shape": {"field": "yr", "type": "nominal", "scale": {"domain": ["2012", "2016", "2020"], "range": ["circle", "triangle-up", "square"]}, "legend": {"title": "Year", "orient": "none", "legendX": 281, "legendY": 54, "symbolOpacity": 1}},
    "size": {"field": "pop", "type": "quantitative", "scale": {"domain": [1, 8, 12], "range": [36, 300, 360]}, "legend": null},
    "opacity": {"field": "pop", "type": "quantitative", "scale": {"domain": [1, 8, 12], "range": [0.22, 0.55, 0.22]}, "legend": null}
   }},
  {"data": {"name": "fits"}, "transform": [{"filter": {"field": "panel", "equal": "hope"}}],
   "mark": {"type": "line", "color": "black", "strokeWidth": 1.6},
   "encoding": {"x": {"field": "x", "type": "quantitative", "title": "Increase in Hope"}, "y": {"field": "y", "type": "quantitative", "title": ["Increase in", "Nonincumbent", "Vote Share"]}}}
 ]
},
{
 "width": 252, "height": 215,
 "layer": [
  {"data": {"name": "counties"},
   "mark": {"type": "point", "filled": true, "color": "black", "strokeWidth": 0},
   "encoding": {
    "x": {"field": "pa", "type": "quantitative", "scale": {"domain": [-1.05, 1.12], "nice": false, "zero": false}, "axis": {"values": [-1, -0.5, 0, 0.5, 1], "format": ".1f", "title": "Increase in Positive Affect"}},
    "y": {"field": "v", "type": "quantitative", "scale": {"domain": [-30.5, 26.6], "nice": false, "zero": false}, "axis": {"values": [-30, -20, -10, 0, 10, 20], "title": ["Increase in", "Nonincumbent", "Vote Share"]}},
    "shape": {"field": "yr", "type": "nominal", "scale": {"domain": ["2012", "2016", "2020"], "range": ["circle", "triangle-up", "square"]}, "legend": {"title": "Year", "orient": "none", "legendX": 281, "legendY": 54, "symbolOpacity": 1}},
    "size": {"field": "pop", "type": "quantitative", "scale": {"domain": [1, 8, 12], "range": [36, 300, 360]}, "legend": null},
    "opacity": {"field": "pop", "type": "quantitative", "scale": {"domain": [1, 8, 12], "range": [0.22, 0.55, 0.22]}, "legend": null}
   }},
  {"data": {"name": "fits"}, "transform": [{"filter": {"field": "panel", "equal": "pa"}}],
   "mark": {"type": "line", "color": "black", "strokeWidth": 1.6},
   "encoding": {"x": {"field": "x", "type": "quantitative", "title": "Increase in Positive Affect"}, "y": {"field": "y", "type": "quantitative", "title": ["Increase in", "Nonincumbent", "Vote Share"]}}}
 ]
},
{
 "width": 254, "height": 215,
 "layer": [
  {"data": {"name": "counties"},
   "mark": {"type": "point", "filled": true, "color": "black", "strokeWidth": 0},
   "encoding": {
    "x": {"field": "na", "type": "quantitative", "scale": {"domain": [-1.14, 1.07], "nice": false, "zero": false}, "axis": {"values": [-1, -0.5, 0, 0.5, 1], "format": ".1f", "title": "Increase in Negative Affect"}},
    "y": {"field": "v", "type": "quantitative", "scale": {"domain": [-30.5, 26.6], "nice": false, "zero": false}, "axis": {"values": [-30, -20, -10, 0, 10, 20], "title": ["Increase in", "Nonincumbent", "Vote Share"]}},
    "shape": {"field": "yr", "type": "nominal", "scale": {"domain": ["2012", "2016", "2020"], "range": ["circle", "triangle-up", "square"]}, "legend": {"title": "Year", "orient": "none", "legendX": 281, "legendY": 54, "symbolOpacity": 1}},
    "size": {"field": "pop", "type": "quantitative", "scale": {"domain": [1, 8, 12], "range": [36, 300, 360]}, "legend": null},
    "opacity": {"field": "pop", "type": "quantitative", "scale": {"domain": [1, 8, 12], "range": [0.22, 0.55, 0.22]}, "legend": null}
   }},
  {"data": {"name": "fits"}, "transform": [{"filter": {"field": "panel", "equal": "na"}}],
   "mark": {"type": "line", "color": "black", "strokeWidth": 1.6},
   "encoding": {"x": {"field": "x", "type": "quantitative", "title": "Increase in Negative Affect"}, "y": {"field": "y", "type": "quantitative", "title": ["Increase in", "Nonincumbent", "Vote Share"]}}}
 ]
}
]
}
